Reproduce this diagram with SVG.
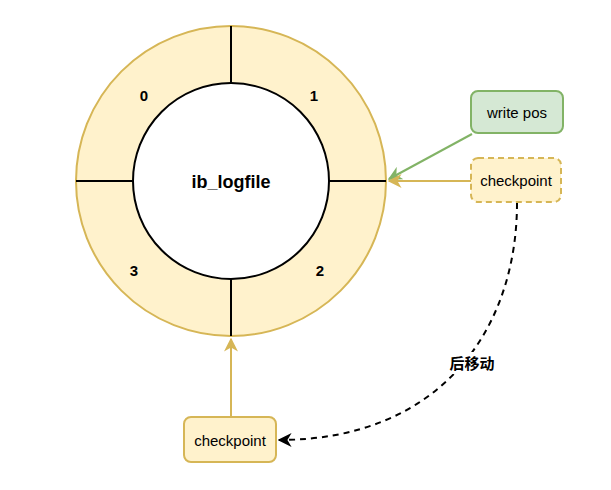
<svg xmlns="http://www.w3.org/2000/svg" width="611" height="490" viewBox="0 0 611 490">
<style>
text{font-family:"Liberation Sans",Arial,"Noto Sans CJK SC",sans-serif;font-size:15px;text-anchor:middle;dominant-baseline:central;fill:#000}
.b{font-weight:bold}
.ln{stroke:#000;stroke-width:2}
</style>
<defs>
<marker id="ay" viewBox="0 0 10 10" refX="9" refY="5" markerWidth="7" markerHeight="7" orient="auto"><path d="M0,0 L10,5 L0,10 L3,5 Z" fill="#d6b656"/></marker>
<marker id="ag" viewBox="0 0 10 10" refX="9" refY="5" markerWidth="7" markerHeight="7" orient="auto"><path d="M0,0 L10,5 L0,10 L3,5 Z" fill="#82b366"/></marker>
<marker id="ak" viewBox="0 0 10 10" refX="9" refY="5" markerWidth="7" markerHeight="7" orient="auto"><path d="M0,0 L10,5 L0,10 L3,5 Z" fill="#000"/></marker>
</defs>
<rect width="611" height="490" fill="#fff"/>
<g id="ring">
<circle cx="231" cy="181" r="155" fill="#fff2cc" stroke="#d6b656" stroke-width="2"/>
<line class="ln" x1="231" y1="26" x2="231" y2="83"/>
<line class="ln" x1="231" y1="279" x2="231" y2="336"/>
<line class="ln" x1="76" y1="181" x2="133" y2="181"/>
<line class="ln" x1="329" y1="181" x2="386" y2="181"/>
<text class="b" x="144" y="95">0</text>
<text class="b" x="314" y="95">1</text>
<text class="b" x="320" y="270">2</text>
<text class="b" x="134" y="270">3</text>
</g>
<g id="logfile">
<circle cx="231" cy="181" r="98" fill="#fff" stroke="#000" stroke-width="2"/>
<text class="b" x="231" y="182" style="font-size:18px">ib_logfile</text>
</g>
<g id="writepos">
<rect x="471" y="91" width="92" height="42" rx="7" fill="#d5e8d4" stroke="#82b366" stroke-width="2"/>
<text x="517" y="112">write pos</text>
</g>
<g id="checkpoint1">
<rect x="471" y="158" width="90" height="44" rx="7" fill="#fff2cc" stroke="#d6b656" stroke-width="2" stroke-dasharray="6 4"/>
<text x="516" y="180">checkpoint</text>
</g>
<g id="checkpoint2">
<rect x="184" y="417" width="92" height="45" rx="7" fill="#fff2cc" stroke="#d6b656" stroke-width="2"/>
<text x="230" y="440">checkpoint</text>
</g>
<g id="connectors" fill="none">
<line x1="472" y1="134" x2="389" y2="179" stroke="#82b366" stroke-width="2" marker-end="url(#ag)"/>
<line x1="471" y1="181" x2="389" y2="181" stroke="#d6b656" stroke-width="2" marker-end="url(#ay)"/>
<line x1="231" y1="417" x2="231" y2="339" stroke="#d6b656" stroke-width="2" marker-end="url(#ay)"/>
<path d="M517,203 C517,330 440,440 279,440" stroke="#000" stroke-width="2" stroke-dasharray="6 5" marker-end="url(#ak)"/>
<rect x="444" y="352" width="56" height="22" fill="#fff"/>
<text class="b" x="472" y="363">后移动</text>
</g>
</svg>
